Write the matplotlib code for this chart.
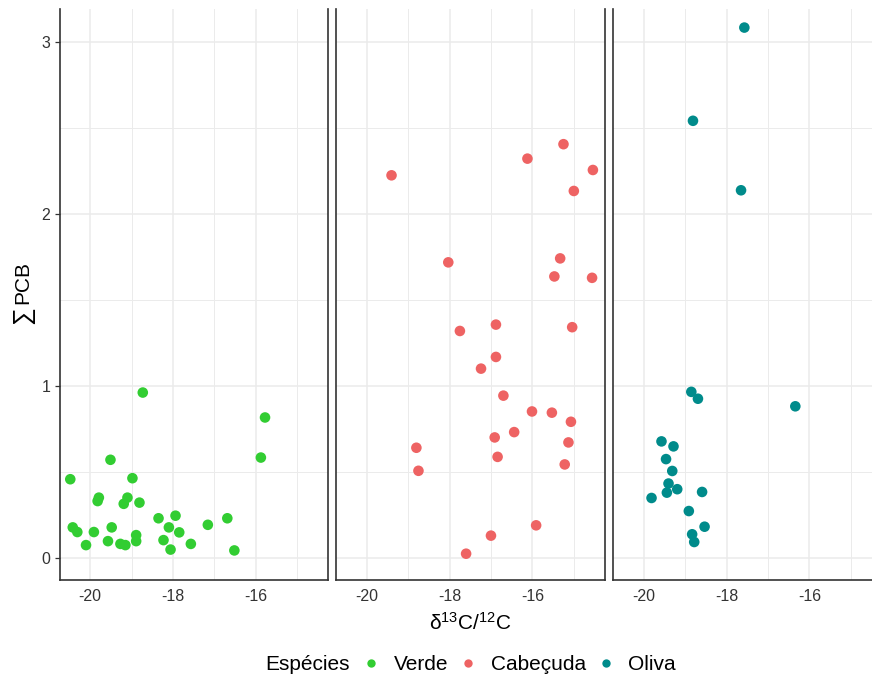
import numpy as np
import matplotlib
matplotlib.use("Agg")
import matplotlib.pyplot as plt
from matplotlib.lines import Line2D

plt.rcParams['font.family'] = ['Liberation Sans', 'DejaVu Sans']
plt.rcParams['mathtext.fontset'] = 'custom'
plt.rcParams['mathtext.rm'] = 'Liberation Sans'
plt.rcParams['mathtext.it'] = 'Liberation Sans:italic'
plt.rcParams['axes.unicode_minus'] = False

# delta 13C (x) and sum of PCB (y) per species
verde_x = [-18.73, -15.78, -15.88, -19.51, -20.48, -18.98, -19.79, -19.82, -19.10, -19.19,
           -18.81, -18.35, -17.94, -16.69, -17.16, -20.42, -20.31, -19.91, -19.48, -18.10,
           -17.85, -18.89, -18.89, -18.23, -19.57, -19.27, -19.15, -20.10, -17.57, -18.06,
           -16.52]
verde_y = [0.96, 0.815, 0.582, 0.569, 0.456, 0.462, 0.349, 0.329, 0.349, 0.313,
           0.320, 0.229, 0.244, 0.229, 0.191, 0.176, 0.149, 0.149, 0.176, 0.176,
           0.147, 0.131, 0.096, 0.102, 0.096, 0.080, 0.073, 0.073, 0.080, 0.047,
           0.042]

cabecuda_x = [-19.40, -16.12, -15.25, -14.54, -15.00, -18.03, -15.33, -15.47, -14.56, -16.88,
              -17.75, -15.04, -16.88, -17.24, -16.70, -16.01, -15.53, -15.07, -16.44, -16.91,
              -15.13, -18.80, -16.84, -15.22, -18.75, -15.91, -17.00, -17.60]
cabecuda_y = [2.223, 2.320, 2.404, 2.254, 2.132, 1.717, 1.740, 1.635, 1.627, 1.355,
              1.318, 1.340, 1.167, 1.099, 0.942, 0.850, 0.843, 0.790, 0.730, 0.699,
              0.670, 0.639, 0.586, 0.542, 0.505, 0.188, 0.128, 0.023]

oliva_x = [-17.57, -18.81, -17.65, -18.85, -18.69, -16.34, -19.57, -19.28, -19.46, -19.31,
           -19.40, -19.19, -19.44, -18.59, -19.81, -18.91, -18.53, -18.83, -18.78]
oliva_y = [3.082, 2.540, 2.136, 0.964, 0.924, 0.880, 0.676, 0.647, 0.573, 0.504,
           0.431, 0.398, 0.378, 0.382, 0.347, 0.271, 0.180, 0.136, 0.091]

species = ['Verde', 'Cabeçuda', 'Oliva']
colors = ['#32CD32', '#EE6363', '#008B8B']
xs = [verde_x, cabecuda_x, oliva_x]
ys = [verde_y, cabecuda_y, oliva_y]

W, H = 872, 680
fig = plt.figure(figsize=(W / 100, H / 100), dpi=100)

top, bottom = 9, 579.5
lefts = [59.5, 336, 613]
widths = [268.5, 269, 259]
px_per_unit = 268.5 / 6.48
x0 = -20.74

axes = []
for i in range(3):
    ax = fig.add_axes([lefts[i] / W, 1 - bottom / H, widths[i] / W, (bottom - top) / H])
    ax.set_xticks([-20, -18, -16])
    ax.set_xticks([-21, -19, -17, -15], minor=True)
    ax.set_yticks([0, 1, 2, 3])
    ax.set_yticks([0.5, 1.5, 2.5], minor=True)
    ax.set_xlim(x0, x0 + widths[i] / px_per_unit)
    ax.set_ylim(-0.127, 3.19)
    ax.grid(which='major', color='#EBEBEB', lw=1.1)
    ax.grid(which='minor', color='#EBEBEB', lw=0.7)
    ax.set_axisbelow(True)
    ax.spines['top'].set_visible(False)
    for s in ['left', 'right', 'bottom']:
        ax.spines[s].set_color('#333333')
        ax.spines[s].set_linewidth(1.2)
    if i == 2:
        ax.spines['right'].set_visible(False)
    ax.tick_params(axis='x', which='both', length=0, pad=6.5, labelsize=11.5, labelcolor='#333333')
    ax.tick_params(axis='y', which='minor', length=0)
    ax.tick_params(axis='y', which='major', length=3.5, width=0.9, color='#333333',
                   pad=3, labelsize=11.5, labelcolor='#333333')
    if i > 0:
        ax.tick_params(axis='y', which='major', length=0, labelleft=False)
    ax.scatter(xs[i], ys[i], s=58, color=colors[i], edgecolors='none', zorder=3)
    axes.append(ax)

# y title: summation sign followed by PCB, rotated
fig.text(23 / W, 1 - 282 / H, 'PCB', fontsize=15, rotation=90, ha='center', va='center')
fig.text(22.5 / W, 1 - 315 / H, '∑', fontsize=18, rotation=90, ha='center', va='center')

axes[1].set_xlabel(r'δ$^{13}$C/$^{12}$C', fontsize=15, labelpad=6)

# legend along the bottom
fig.text(265 / W, 1 - 665 / H, 'Espécies', fontsize=15, ha='left', va='center')
handles = [Line2D([], [], ls='none', marker='o', ms=6, mec='none', mfc=c) for c in colors]
fig.legend(handles, species, loc='center left', bbox_to_anchor=(358 / W, 1 - 665 / H),
           ncol=3, frameon=False, fontsize=15, handlelength=1.2, handletextpad=0.5,
           columnspacing=0.35, borderpad=0, borderaxespad=0)

fig.savefig('out.png', dpi=100)
